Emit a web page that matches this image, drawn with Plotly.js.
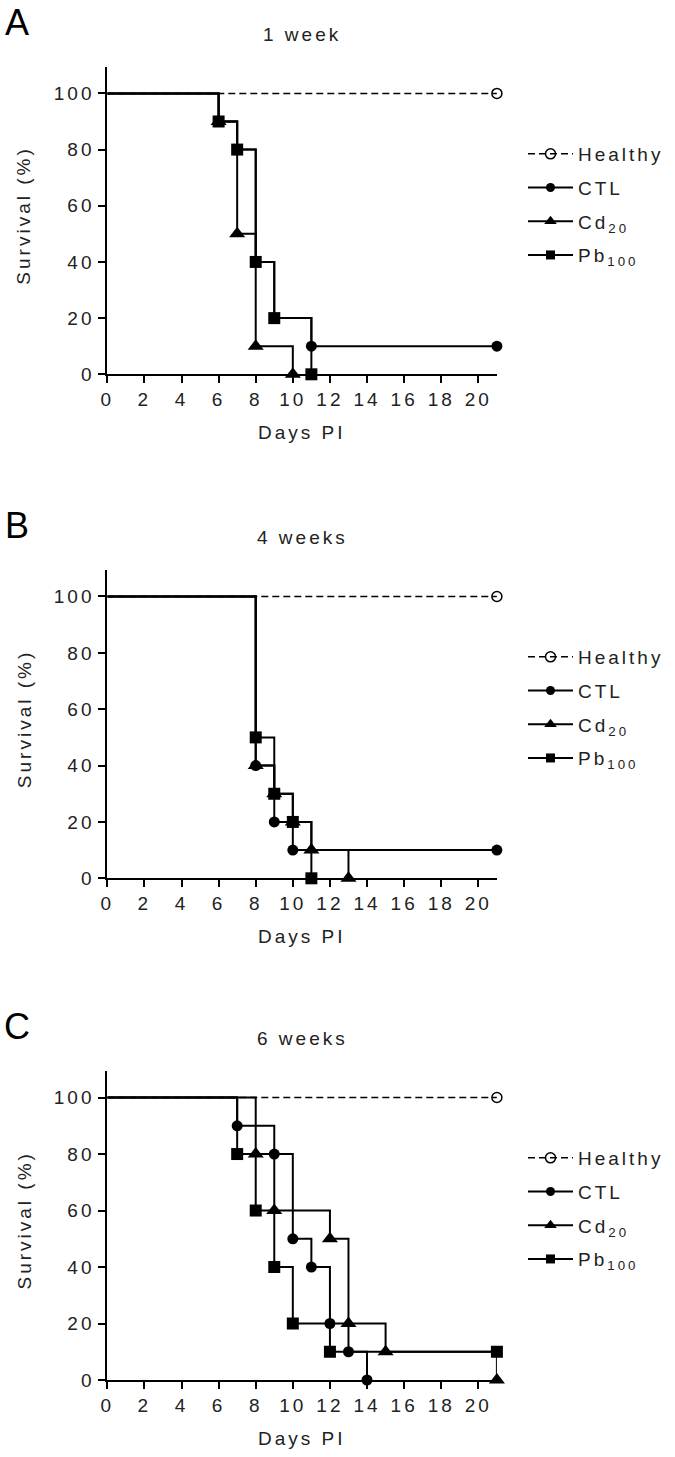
<!DOCTYPE html>
<html><head><meta charset="utf-8">
<script src="https://cdn.plot.ly/plotly-3.0.1.min.js"></script>
<style>
html,body{margin:0;padding:0;background:#fff;}
svg text{letter-spacing:3px;}
</style></head>
<body><div id="chart" style="width:675px;height:1457px;"></div>
<script>
// ---------- data ----------
const seriesNames = ['Healthy', 'CTL', 'Cd<sub>20</sub>', 'Pb<sub>100</sub>'];
const panelLetters = ['A', 'B', 'C'];
const panelTitles = ['1 week', '4 weeks', '6 weeks'];
const xTickVals = [0, 2, 4, 6, 8, 10, 12, 14, 16, 18, 20];
const yTickVals = [0, 20, 40, 60, 80, 100];
const xTitle = 'Days PI';
const yTitle = 'Survival (%)';
const startSurvival = 100;

// Panel A (1 week): event days and survival (%) after each event
const A_healthyDays = [21], A_healthySurv = [100];
const A_ctlDays = [6, 7, 8, 9, 11, 21], A_ctlSurv = [90, 80, 40, 20, 10, 10];
const A_cdDays = [6, 7, 8, 10], A_cdSurv = [90, 50, 10, 0];
const A_pbDays = [6, 7, 8, 9, 11], A_pbSurv = [90, 80, 40, 20, 0];

// Panel B (4 weeks)
const B_healthyDays = [21], B_healthySurv = [100];
const B_ctlDays = [8, 9, 10, 21], B_ctlSurv = [40, 20, 10, 10];
const B_cdDays = [8, 9, 10, 11, 13], B_cdSurv = [40, 30, 20, 10, 0];
const B_pbDays = [8, 9, 10, 11], B_pbSurv = [50, 30, 20, 0];

// Panel C (6 weeks)
const C_healthyDays = [21], C_healthySurv = [100];
const C_ctlDays = [7, 9, 10, 11, 12, 13, 14], C_ctlSurv = [90, 80, 50, 40, 20, 10, 0];
const C_cdDays = [8, 9, 12, 13, 15, 21], C_cdSurv = [80, 60, 50, 20, 10, 0];
const C_pbDays = [7, 8, 9, 10, 12, 21], C_pbSurv = [80, 60, 40, 20, 10, 10];

const panels = [
  [[A_healthyDays, A_healthySurv], [A_ctlDays, A_ctlSurv], [A_cdDays, A_cdSurv], [A_pbDays, A_pbSurv]],
  [[B_healthyDays, B_healthySurv], [B_ctlDays, B_ctlSurv], [B_cdDays, B_cdSurv], [B_pbDays, B_pbSurv]],
  [[C_healthyDays, C_healthySurv], [C_ctlDays, C_ctlSurv], [C_cdDays, C_cdSurv], [C_pbDays, C_pbSurv]]
];

// ---------- styling / geometry ----------
const W = 675, H = 1457;
const FONT = 'Liberation Sans, Arial, sans-serif';
const TXT = '#222';
const xLeftPx = 107.3, xRightPx = 496.9;
const panelPx = [ {top: 67, bottom: 374.3}, {top: 570, bottom: 878.3}, {top: 1071, bottom: 1380} ];
const yMax = 109.4, xMax = 21;

const styles = [
  {symbol: 'circle-open', size: 10, lsize: 10, dash: '7px,4px', lineW: 1.5},
  {symbol: 'circle', size: 11, lsize: 9, dash: 'solid', lineW: 2},
  {symbol: 'triangle-up', size: 14, lsize: 11, dash: 'solid', lineW: 2},
  {symbol: 'square', size: 12, lsize: 9, dash: 'solid', lineW: 2}
];

const px2fx = p => p / W;
const px2fy = p => 1 - p / H;

const traces = [];
const layout = {
  width: W, height: H,
  margin: {l: 0, r: 0, t: 0, b: 0},
  paper_bgcolor: '#fff', plot_bgcolor: '#fff',
  font: {family: FONT, size: 19, color: TXT},
  annotations: []
};

panels.forEach((series, p) => {
  const sfx = p === 0 ? '' : String(p + 1);
  const xa = 'x' + sfx, ya = 'y' + sfx;
  const legName = 'legend' + sfx;
  const geo = panelPx[p];

  layout['xaxis' + sfx] = {
    domain: [px2fx(xLeftPx), px2fx(xRightPx)], anchor: ya,
    range: [0, xMax], tickvals: xTickVals, ticktext: xTickVals.map(String),
    showline: true, linewidth: 2, linecolor: '#000', showgrid: false, zeroline: false,
    ticks: 'outside', ticklen: 7, tickwidth: 2, tickcolor: '#000',
    tickfont: {family: FONT, size: 19, color: TXT}, fixedrange: true
  };
  layout['yaxis' + sfx] = {
    domain: [px2fy(geo.bottom), px2fy(geo.top)], anchor: xa,
    range: [0, yMax], tickvals: yTickVals, ticktext: yTickVals.map(String),
    showline: true, linewidth: 2, linecolor: '#000', showgrid: false, zeroline: false,
    ticks: 'outside', ticklen: 7, tickwidth: 2, tickcolor: '#000',
    tickfont: {family: FONT, size: 19, color: TXT}, fixedrange: true
  };

  layout[legName] = {
    x: px2fx(523), y: px2fy(geo.top + 85 - 17), xanchor: 'left', yanchor: 'top',
    bgcolor: 'rgba(0,0,0,0)', borderwidth: 0,
    font: {family: FONT, size: 19, color: TXT},
    traceorder: 'grouped', tracegroupgap: 6, itemwidth: 45
  };

  series.forEach(([days, surv], s) => {
    const st = styles[s];
    // step line
    traces.push({
      x: [0].concat(days), y: [startSurvival].concat(surv),
      xaxis: xa, yaxis: ya, type: 'scatter', mode: 'lines',
      line: {shape: 'hv', color: '#000', width: st.lineW, dash: st.dash},
      showlegend: false, hoverinfo: 'skip', cliponaxis: false
    });
  });
  series.forEach(([days, surv], s) => {
    const st = styles[s];
    // markers at events / censoring
    traces.push({
      x: days, y: surv, xaxis: xa, yaxis: ya, type: 'scatter', mode: 'markers',
      marker: {symbol: st.symbol, size: st.size, color: '#000', line: {color: '#000', width: s === 0 ? 1.5 : 0}},
      showlegend: false, hoverinfo: 'skip', cliponaxis: false
    });
  });
  series.forEach((_, s) => {
    const st = styles[s];
    // legend entry
    traces.push({
      x: [null], y: [null], xaxis: xa, yaxis: ya, type: 'scatter', mode: 'lines+markers',
      name: seriesNames[s], legend: legName, legendgroup: 'p' + p + 's' + s,
      line: {color: '#000', width: st.lineW, dash: st.dash},
      marker: {symbol: st.symbol, size: st.lsize, color: '#000', line: {color: '#000', width: s === 0 ? 1.5 : 0}},
      showlegend: true
    });
  });

  const midX = px2fx((xLeftPx + xRightPx) / 2);
  layout.annotations.push(
    {text: panelLetters[p], xref: 'paper', yref: 'paper', x: px2fx(18), y: px2fy(geo.top - 45),
     xanchor: 'center', yanchor: 'middle', showarrow: false, font: {family: FONT, size: 36, color: '#000'}},
    {text: panelTitles[p], xref: 'paper', yref: 'paper', x: midX, y: px2fy(geo.top - 33),
     xanchor: 'center', yanchor: 'middle', showarrow: false, font: {family: FONT, size: 19, color: TXT}},
    {text: xTitle, xref: 'paper', yref: 'paper', x: midX, y: px2fy(geo.bottom + 58),
     xanchor: 'center', yanchor: 'middle', showarrow: false, font: {family: FONT, size: 19, color: TXT}},
    {text: yTitle, xref: 'paper', yref: 'paper', x: px2fx(24), y: px2fy((geo.top + geo.bottom) / 2 - 5),
     xanchor: 'center', yanchor: 'middle', textangle: -90, showarrow: false, font: {family: FONT, size: 19, color: TXT}}
  );
});

Plotly.newPlot('chart', traces, layout, {staticPlot: true, displayModeBar: false});
</script>
</body></html>
